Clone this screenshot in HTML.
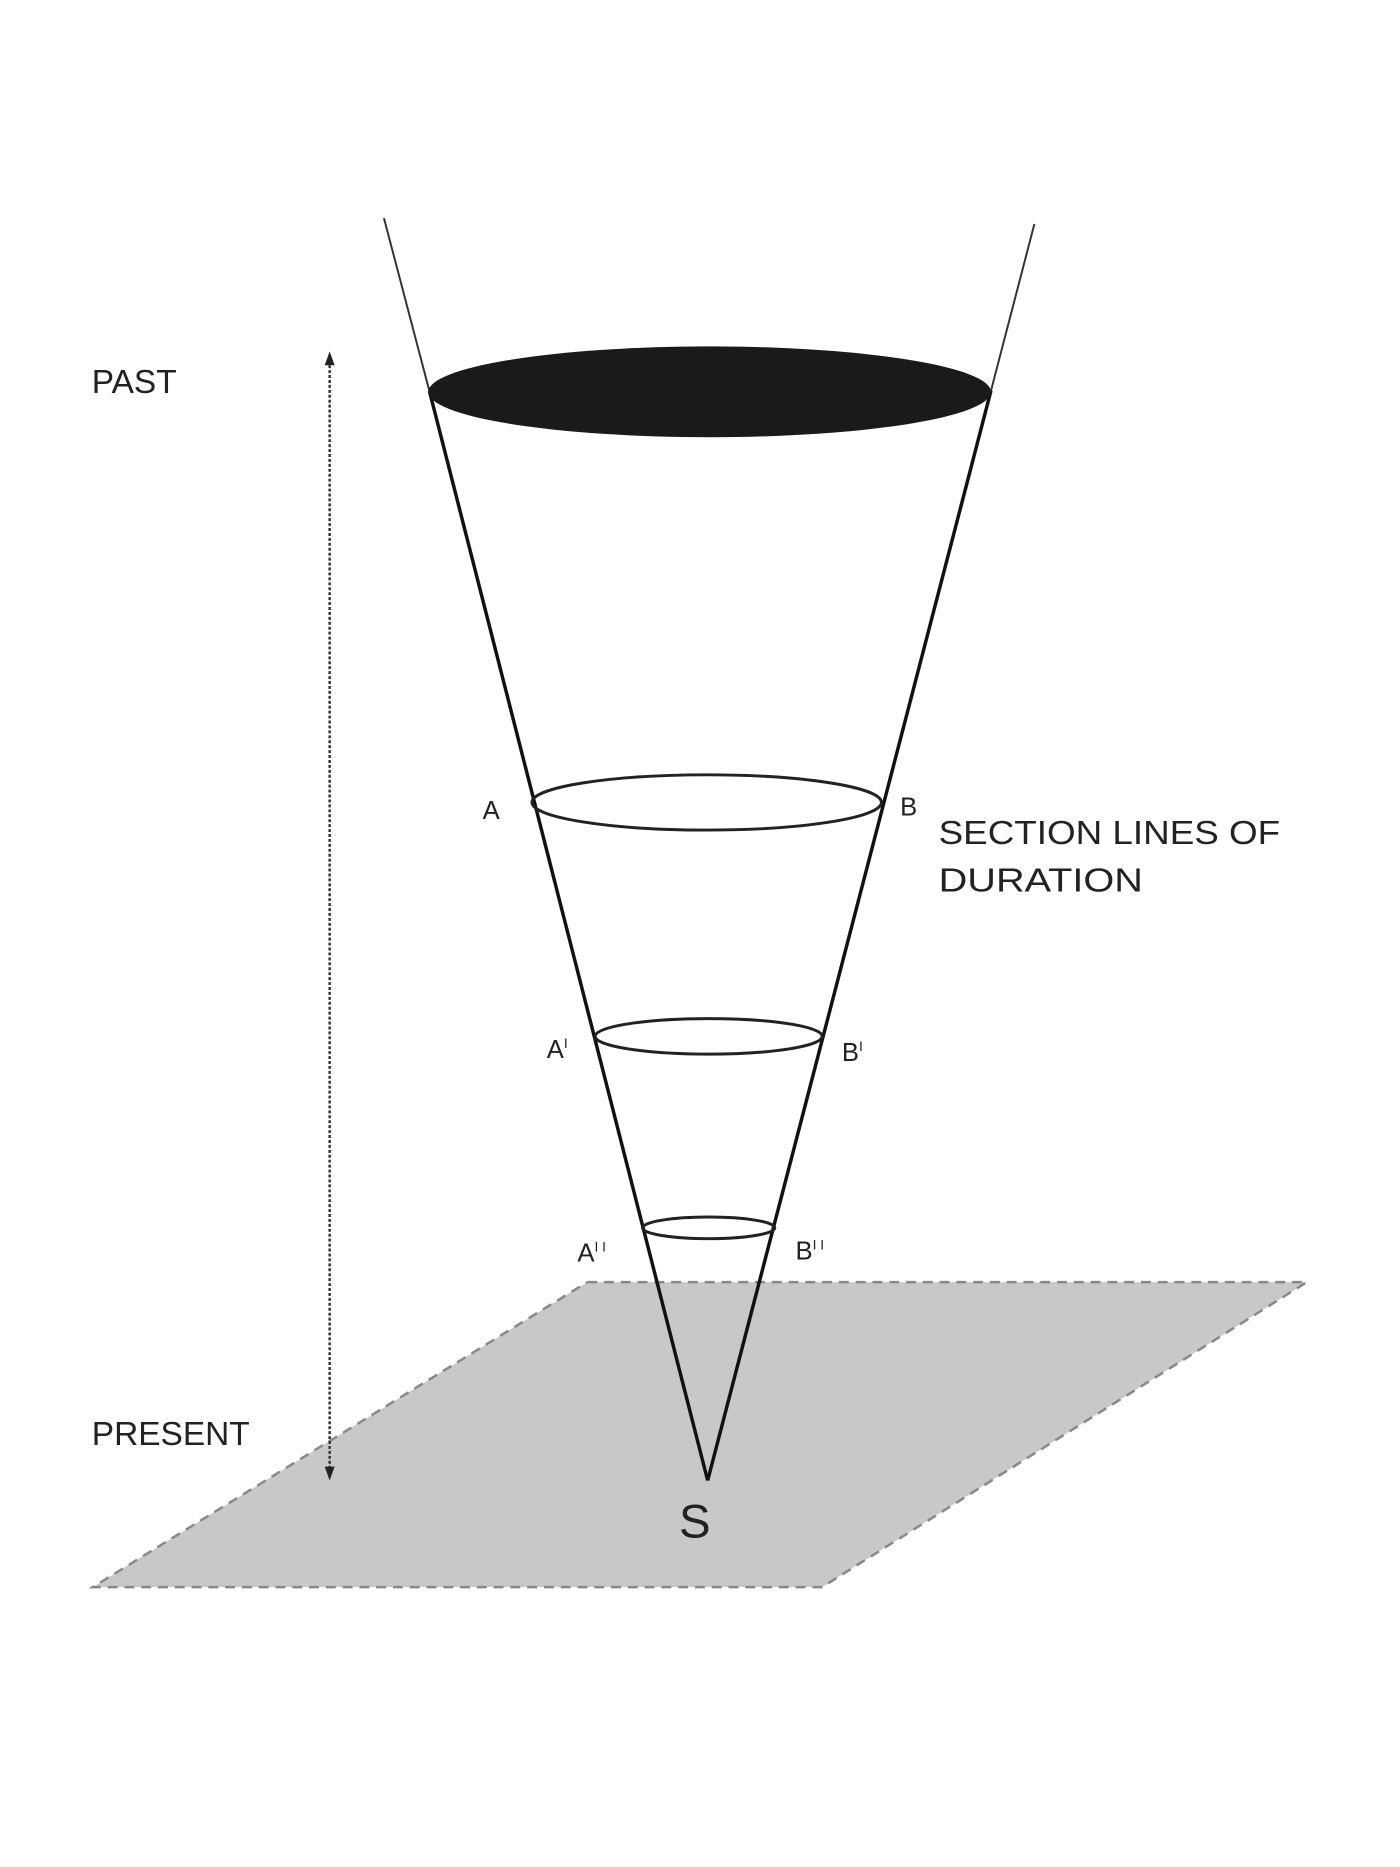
<!DOCTYPE html>
<html><head><style>body{margin:0;background:#fff}svg{display:block}</style></head>
<body>
<svg width="1400" height="1867" viewBox="0 0 1400 1867" xmlns="http://www.w3.org/2000/svg" font-family="Liberation Sans, sans-serif" fill="#222">
<g transform="scale(0.987)">
<polygon points="595,1299 1324,1299 833,1608 94,1608" fill="#c8c8c8"/>
<polyline points="595,1299 1324,1299 833,1608 94,1608 595,1299" fill="none" stroke="#888" stroke-width="2.5" stroke-dasharray="10,7"/>
<line x1="389" y1="221" x2="435" y2="396" stroke="#333" stroke-width="2"/>
<line x1="1048" y1="227" x2="1004" y2="396" stroke="#333" stroke-width="2"/>
<line x1="435" y1="396" x2="717" y2="1500" stroke="#111" stroke-width="3.5"/>
<line x1="1004" y1="396" x2="717" y2="1500" stroke="#111" stroke-width="3.5"/>
<ellipse cx="719" cy="397" rx="285" ry="46" fill="#1a1a1a"/>
<ellipse cx="716" cy="813" rx="177" ry="28" fill="none" stroke="#222" stroke-width="3"/>
<ellipse cx="718" cy="1050" rx="115" ry="18" fill="none" stroke="#222" stroke-width="3"/>
<ellipse cx="718" cy="1244" rx="67" ry="11" fill="none" stroke="#222" stroke-width="3"/>
<line x1="334" y1="365" x2="334" y2="1490" stroke="#333" stroke-width="2.5" stroke-dasharray="3,2"/>
<polygon points="334,356 329,370 339,370" fill="#222"/>
<polygon points="334,1500 329,1486 339,1486" fill="#222"/>
<g font-size="34">
<text x="93" y="398" textLength="86" lengthAdjust="spacingAndGlyphs">PAST</text>
<text x="93" y="1464" textLength="160" lengthAdjust="spacingAndGlyphs">PRESENT</text>
<text x="951" y="855" textLength="346" lengthAdjust="spacingAndGlyphs">SECTION LINES OF</text>
<text x="951" y="903" textLength="207" lengthAdjust="spacingAndGlyphs">DURATION</text>
</g>
<g font-size="26">
<text x="489" y="830">A</text>
<text x="912" y="826">B</text>
<text x="554" y="1072">A<tspan font-size="14" dy="-10">I</tspan></text>
<text x="853" y="1075">B<tspan font-size="14" dy="-10">I</tspan></text>
<text x="585" y="1278">A<tspan font-size="14" dy="-10">I I</tspan></text>
<text x="806" y="1276">B<tspan font-size="14" dy="-10">I I</tspan></text>
</g>
<text x="688" y="1558" font-size="48">S</text>
</g>
</svg>
</body></html>
